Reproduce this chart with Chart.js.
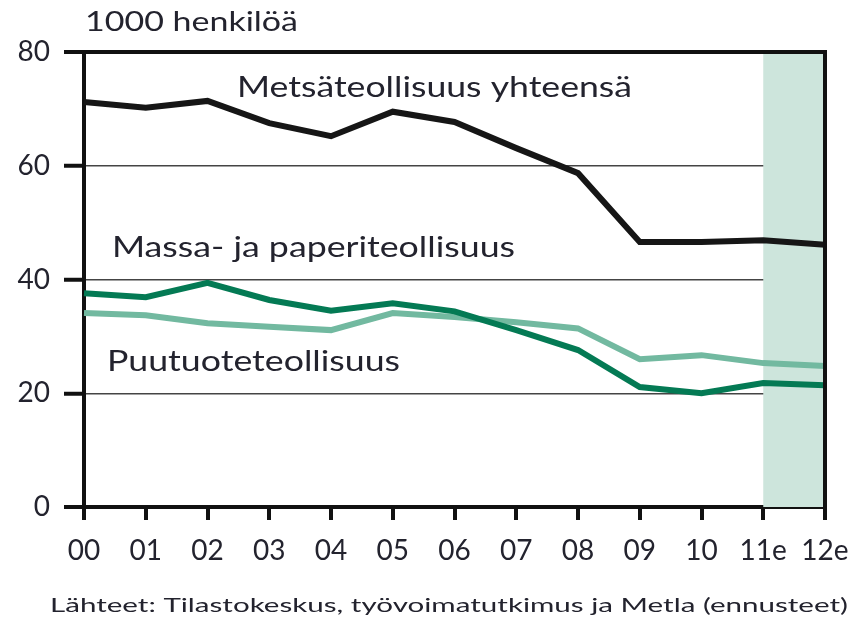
<!DOCTYPE html>
<html><head><meta charset="utf-8">
<script src="https://cdn.jsdelivr.net/npm/chart.js@4"></script>
<style>html,body{margin:0;padding:0;background:#fff;}#wrap{width:857px;height:621px;}</style>
</head><body><div id="wrap"><canvas id="c" width="857" height="621"></canvas></div>
<script>
const years = ["00","01","02","03","04","05","06","07","08","09","10","11e","12e"];
const metsa = [71.2,70.2,71.4,67.5,65.2,69.5,67.7,63.1,58.7,46.6,46.6,46.9,46.1];
const massa = [37.6,36.9,39.4,36.4,34.5,35.8,34.4,31.1,27.6,21.1,20.0,21.8,21.4];
const puu   = [34.1,33.7,32.3,31.7,31.1,34.1,33.4,32.5,31.4,26.0,26.7,25.3,24.8];
const yTicks = [0,20,40,60,80];
const forecastStart = "11e";
const labels = {
  unit: "1000 henkilöä",
  metsa: "Metsäteollisuus yhteensä",
  massa: "Massa- ja paperiteollisuus",
  puu: "Puutuoteteollisuus",
  source: "Lähteet: Tilastokeskus, työvoimatutkimus ja Metla (ennusteet)"
};
const FONT = "Lato, 'Open Sans', sans-serif";
const TXT = "#23232e";

function fitText(ctx, text, x, y, width) {
  const w = ctx.measureText(text).width;
  ctx.save();
  ctx.translate(x, y);
  ctx.scale(width / w, 1);
  ctx.fillText(text, 0, 0);
  ctx.restore();
}

const decor = {
  id: 'decor',
  beforeDatasetsDraw(chart) {
    const {ctx, chartArea: a, scales: {x}} = chart;
    const xs = x.getPixelForValue(years.indexOf(forecastStart));
    ctx.save();
    ctx.fillStyle = "#cde5dc";
    ctx.fillRect(xs, a.top, a.right - xs, a.bottom - a.top);
    ctx.restore();
  },
  afterDatasetsDraw(chart) {
    const {ctx, chartArea: a} = chart;
    ctx.save();
    ctx.strokeStyle = "#111"; ctx.lineWidth = 4;
    ctx.beginPath(); ctx.moveTo(a.right, a.top - 2); ctx.lineTo(a.right, a.bottom + 13); ctx.stroke();
    ctx.beginPath(); ctx.moveTo(a.left - 20, a.top); ctx.lineTo(a.right + 2, a.top); ctx.stroke();
    ctx.fillStyle = TXT; ctx.textBaseline = "middle"; ctx.textAlign = "left";
    ctx.font = "27px " + FONT;
    fitText(ctx, labels.unit, 85, 22, 213);
    ctx.font = "28px " + FONT;
    fitText(ctx, labels.metsa, 237, 88, 395);
    fitText(ctx, labels.massa, 112, 248, 403);
    fitText(ctx, labels.puu, 107, 362, 293);
    ctx.font = "20px " + FONT;
    fitText(ctx, labels.source, 50, 606, 798);
    ctx.restore();
  }
};

new Chart(document.getElementById('c'), {
  type: 'line',
  data: {
    labels: years,
    datasets: [
      {data: metsa, borderColor: "#161616", borderWidth: 6, pointRadius: 0, tension: 0},
      {data: massa, borderColor: "#047a54", borderWidth: 6, pointRadius: 0, tension: 0},
      {data: puu, borderColor: "#72b9a0", borderWidth: 6, pointRadius: 0, tension: 0}
    ]
  },
  options: {
    responsive: false, animation: false,
    layout: {padding: {top: 52, right: 32, left: 0, bottom: 0}},
    plugins: {legend: {display: false}, tooltip: {enabled: false}},
    scales: {
      x: {
        offset: false,
        grid: {drawOnChartArea: false, drawTicks: true, tickLength: 13, color: "#111", lineWidth: 4},
        border: {display: true, color: "#111", width: 4},
        ticks: {color: TXT, font: {family: FONT, size: 28}, padding: 14, maxRotation: 0, autoSkip: false},
        afterFit(s) { s.height = 114; s.paddingLeft = 0; s.paddingRight = 0; }
      },
      y: {
        min: 0, max: 80,
        afterBuildTicks(s) { s.ticks = yTicks.map(v => ({value: v})); },
        grid: {
          drawTicks: true, tickLength: 20,
          color: c => (c.tick && (c.tick.value === 0 || c.tick.value === 80)) ? "#111" : "#444",
          lineWidth: c => (c.tick && (c.tick.value === 0 || c.tick.value === 80)) ? 4 : 1.5,
          tickColor: "#111", tickWidth: 4
        },
        border: {display: true, color: "#111", width: 4},
        ticks: {color: TXT, font: {family: FONT, size: 28}, padding: 14},
        afterFit(s) { s.width = 84; s.paddingTop = 0; s.paddingBottom = 0; }
      }
    }
  },
  plugins: [decor]
});
</script></body></html>
